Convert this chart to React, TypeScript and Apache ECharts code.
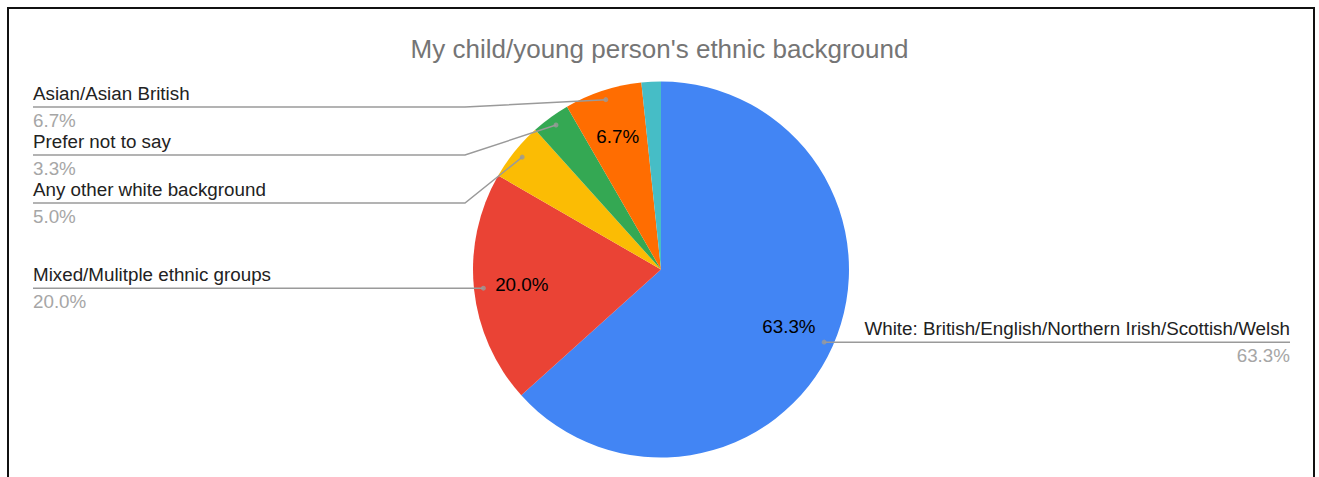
import React, { useEffect, useRef } from "react";
import * as echarts from "echarts";

const TITLE = "My child/young person's ethnic background";
const categories = [
  "White: British/English/Northern Irish/Scottish/Welsh",
  "Mixed/Mulitple ethnic groups",
  "Any other white background",
  "Prefer not to say",
  "Asian/Asian British",
  "Other ethnic group",
];
const counts = [38, 12, 3, 2, 4, 1];
const colors = ["#4285F4", "#EA4335", "#FBBC04", "#34A853", "#FF6D01", "#46BDC6"];
const outsideLabelShown = [true, true, true, true, true, false];
const insideLabelShown = [true, true, false, false, true, false];

const W = 1319;
const H = 477;
const CX = 661;
const CY = 269.5;
const R = 188;
const DOT_FRAC = 0.95;
const LABEL_TOP = 83;
const LEFT_X = 33;
const RIGHT_X = 1290;
const KNEE_X = 465;
const FONT = "Arial, 'Liberation Sans', sans-serif";
const FS = 18.8;
const LH = 27;

export default function App() {
  const ref = useRef<HTMLDivElement>(null);

  useEffect(() => {
    if (!ref.current) return;
    const chart = echarts.init(ref.current, null, { renderer: "svg" });
    const total = counts.reduce((a, b) => a + b, 0);
    const pct = (v: number) => ((v / total) * 100).toFixed(1) + "%";
    const baseData = categories.map((name, i) => ({ name, value: counts[i] }));

    const dots: number[][] = [];
    let acc = 0;
    counts.forEach((v, i) => {
      const mid = acc + v / 2;
      acc += v;
      if (outsideLabelShown[i]) dots.push([DOT_FRAC, mid]);
    });

    const option: any = {
      animation: false,
      backgroundColor: "#ffffff",
      title: {
        text: TITLE,
        left: "center",
        top: 31,
        textStyle: {
          fontSize: 26,
          lineHeight: 26,
          color: "#757575",
          fontWeight: "normal",
          fontFamily: FONT,
        },
      },
      polar: { center: [CX, CY], radius: R },
      angleAxis: {
        type: "value",
        min: 0,
        max: total,
        startAngle: 90,
        clockwise: true,
        show: false,
      },
      radiusAxis: { type: "value", min: 0, max: 1, show: false },
      series: [
        {
          type: "pie",
          center: [CX, CY],
          radius: R,
          startAngle: 90,
          clockwise: true,
          silent: true,
          z: 1,
          label: { show: false },
          labelLine: { show: false },
          data: baseData.map((d, i) => ({ ...d, itemStyle: { color: colors[i] } })),
        },
        {
          type: "pie",
          center: [CX, CY],
          radius: [86, R],
          startAngle: 90,
          clockwise: true,
          silent: true,
          z: 2,
          itemStyle: { color: "transparent" },
          label: {
            show: true,
            position: "inside",
            formatter: (p: any) => pct(p.value),
            color: "#000000",
            fontSize: FS,
            fontFamily: FONT,
            textBorderWidth: 0,
          },
          labelLine: { show: false },
          data: baseData.map((d, i) => ({ ...d, label: { show: insideLabelShown[i] } })),
        },
        {
          type: "pie",
          top: LABEL_TOP,
          left: 0,
          center: [CX, CY - LABEL_TOP],
          radius: R * DOT_FRAC,
          startAngle: 90,
          clockwise: true,
          silent: true,
          z: 3,
          itemStyle: { color: "transparent" },
          avoidLabelOverlap: true,
          label: {
            show: true,
            position: "outside",
            alignTo: "edge",
            edgeDistance: 10,
            distanceToLabelLine: 0,
            formatter: (p: any) => `{n|${p.name}}\n{p|${pct(p.value)}}`,
            rich: {
              n: { fontSize: FS, lineHeight: LH, color: "#222222", fontFamily: FONT },
              p: { fontSize: FS, lineHeight: LH, color: "#a6a6a6", fontFamily: FONT },
            },
          },
          labelLine: {
            show: true,
            length: 0,
            length2: 0,
            lineStyle: { color: "#9a9a9a", width: 1.5 },
          },
          labelLayout: (params: any) => {
            const pts = params.labelLinePoints;
            if (!pts) return {};
            const p0 = pts[0];
            const y = pts[pts.length - 1][1];
            if (p0[0] < CX) {
              return {
                x: LEFT_X,
                align: "left",
                labelLinePoints: [p0, [KNEE_X, y], [LEFT_X, y]],
              };
            }
            return {
              x: RIGHT_X,
              align: "right",
              labelLinePoints: [p0, [p0[0] + 10, y], [RIGHT_X, y]],
            };
          },
          data: baseData.map((d, i) => ({
            ...d,
            label: { show: outsideLabelShown[i] },
            labelLine: { show: outsideLabelShown[i] },
          })),
        },
        {
          type: "scatter",
          coordinateSystem: "polar",
          silent: true,
          z: 4,
          symbol: "circle",
          symbolSize: 5,
          itemStyle: { color: "#9a9a9a" },
          data: dots,
        },
      ],
    };
    chart.setOption(option);
    return () => chart.dispose();
  }, []);

  return (
    <>
      <div
        ref={ref}
        style={{ position: "absolute", left: 0, top: 0, width: W, height: H }}
      />
      <div
        style={{
          position: "absolute",
          left: 7,
          top: 7,
          width: 1308,
          height: 500,
          border: "2px solid #111",
          boxSizing: "border-box",
          pointerEvents: "none",
        }}
      />
    </>
  );
}
